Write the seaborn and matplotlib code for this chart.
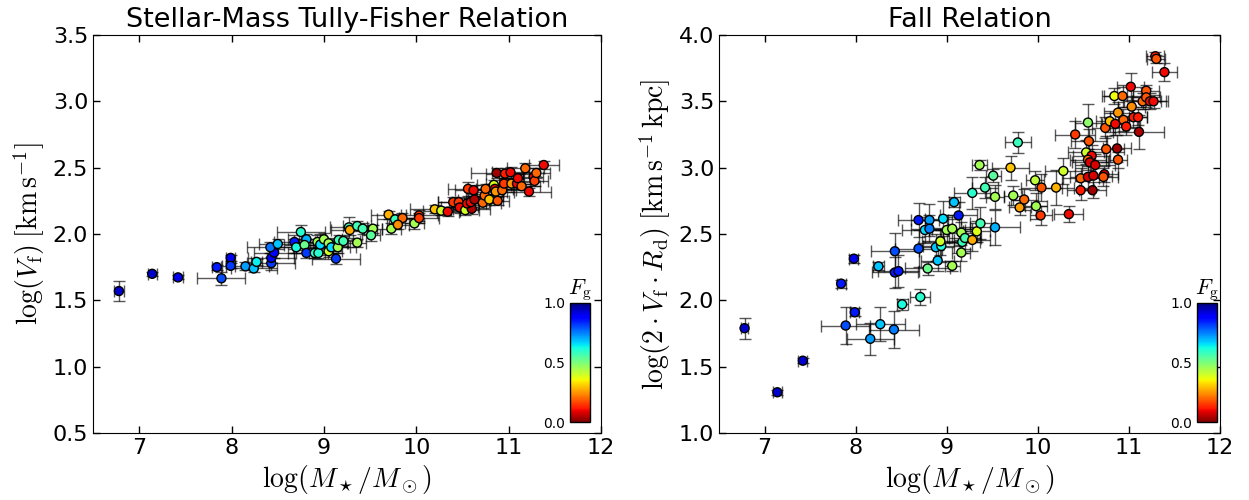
import numpy as np
import pandas as pd
import matplotlib
matplotlib.use('Agg')
import matplotlib.pyplot as plt
import seaborn as sns

# --- Stellar-mass Tully-Fisher panel ---
mstar_tf = [6.78, 7.14, 7.42, 7.84, 7.99, 7.99, 7.89, 8.15, 8.24, 8.27,
            8.43, 8.43, 8.46, 8.42, 8.50, 8.68, 8.70, 8.75, 8.81, 8.79,
            8.81, 8.90, 8.94, 8.93, 8.96, 9.00, 9.05, 9.05, 9.08, 9.13,
            9.15, 9.16, 9.21, 9.27, 9.28, 9.36, 9.36, 9.42, 9.53, 9.51,
            9.70, 9.77, 9.85, 9.73, 9.80, 9.98, 10.03, 10.03, 10.20, 10.27,
            10.34, 10.40, 10.46, 10.47, 10.53, 10.60, 10.56, 10.62, 10.55, 10.59,
            10.63, 10.72, 10.74, 10.79, 10.88, 10.75, 10.84, 10.85, 10.86, 10.93,
            10.95, 10.87, 10.96, 11.02, 11.03, 11.09, 11.10, 11.14, 11.18, 11.22,
            11.27, 11.28, 11.30, 11.38]
logv_tf = [1.57, 1.70, 1.673, 1.75, 1.82, 1.76, 1.666, 1.756, 1.74, 1.79,
           1.78, 1.82, 1.86, 1.90, 1.925, 1.94, 1.90, 2.015, 1.96, 1.917,
           1.857, 1.857, 1.857, 1.94, 1.92, 1.96, 1.93, 1.87, 1.90, 1.814,
           1.90, 1.955, 1.947, 2.05, 2.03, 2.06, 1.935, 2.04, 2.04, 1.99,
           2.146, 2.11, 2.12, 2.04, 2.07, 2.08, 2.14, 2.12, 2.186, 2.176,
           2.168, 2.24, 2.24, 2.20, 2.18, 2.19, 2.34, 2.33, 2.23, 2.24,
           2.26, 2.236, 2.29, 2.26, 2.25, 2.34, 2.37, 2.34, 2.32, 2.33,
           2.38, 2.46, 2.455, 2.465, 2.38, 2.38, 2.42, 2.36, 2.495, 2.32,
           2.43, 2.40, 2.46, 2.52]
fg_tf = [0.93, 0.93, 0.90, 0.85, 0.90, 0.82, 0.80, 0.72, 0.68, 0.64,
         0.82, 0.88, 0.88, 0.76, 0.68, 0.85, 0.62, 0.60, 0.70, 0.52,
         0.82, 0.60, 0.60, 0.45, 0.66, 0.45, 0.45, 0.40, 0.66, 0.82,
         0.45, 0.57, 0.57, 0.57, 0.27, 0.57, 0.45, 0.57, 0.45, 0.54,
         0.28, 0.58, 0.20, 0.45, 0.24, 0.45, 0.15, 0.15, 0.30, 0.40,
         0.10, 0.15, 0.15, 0.10, 0.40, 0.04, 0.15, 0.10, 0.10, 0.10,
         0.04, 0.20, 0.20, 0.30, 0.18, 0.20, 0.38, 0.10, 0.25, 0.20,
         0.15, 0.03, 0.12, 0.10, 0.25, 0.10, 0.10, 0.20, 0.20, 0.10,
         0.10, 0.16, 0.20, 0.10]
xerr_tf = [0.05, 0.05, 0.05, 0.05, 0.05, 0.05, 0.26, 0.25, 0.25, 0.06,
           0.26, 0.25, 0.22, 0.25, 0.20, 0.22, 0.20, 0.26, 0.20, 0.22,
           0.20, 0.20, 0.10, 0.20, 0.20, 0.20, 0.20, 0.15, 0.20, 0.26,
           0.20, 0.15, 0.18, 0.20, 0.20, 0.15, 0.10, 0.15, 0.10, 0.10,
           0.19, 0.20, 0.15, 0.10, 0.12, 0.10, 0.20, 0.22, 0.27, 0.20,
           0.12, 0.16, 0.22, 0.20, 0.15, 0.20, 0.22, 0.20, 0.20, 0.20,
           0.18, 0.20, 0.20, 0.15, 0.12, 0.20, 0.18, 0.20, 0.20, 0.15,
           0.20, 0.28, 0.20, 0.20, 0.20, 0.15, 0.20, 0.20, 0.20, 0.24,
           0.10, 0.15, 0.15, 0.16]
yerr_tf = [0.075, 0.015, 0.015, 0.02, 0.025, 0.02, 0.05, 0.03, 0.03, 0.02,
           0.05, 0.04, 0.04, 0.04, 0.04, 0.05, 0.04, 0.05, 0.04, 0.04,
           0.04, 0.04, 0.04, 0.05, 0.08, 0.05, 0.04, 0.04, 0.04, 0.04,
           0.04, 0.04, 0.04, 0.08, 0.04, 0.04, 0.03, 0.04, 0.03, 0.04,
           0.03, 0.04, 0.04, 0.04, 0.03, 0.04, 0.04, 0.04, 0.03, 0.03,
           0.03, 0.04, 0.04, 0.04, 0.04, 0.04, 0.05, 0.04, 0.04, 0.04,
           0.04, 0.04, 0.04, 0.04, 0.03, 0.04, 0.04, 0.04, 0.04, 0.04,
           0.04, 0.04, 0.04, 0.04, 0.04, 0.04, 0.04, 0.03, 0.04, 0.03,
           0.04, 0.04, 0.04, 0.03]

# --- Fall relation panel ---
mstar_fall = [6.78, 7.14, 7.42, 7.84, 7.98, 7.99, 7.89, 8.25, 8.27, 8.16,
              8.42, 8.51, 8.71, 8.43, 8.43, 8.47, 8.69, 8.69, 8.81, 8.76,
              8.81, 8.79, 8.90, 8.88, 8.94, 8.93, 8.96, 9.00, 9.06, 9.06,
              9.08, 9.13, 9.16, 9.17, 9.16, 9.20, 9.28, 9.33, 9.37, 9.28,
              9.42, 9.53, 9.53, 9.51, 9.36, 9.78, 9.70, 9.73, 9.80, 9.85,
              9.97, 9.98, 10.03, 10.04, 10.20, 10.28, 10.34, 10.41, 10.47, 10.47,
              10.55, 10.56, 10.53, 10.59, 10.55, 10.57, 10.63, 10.55, 10.61, 10.60,
              10.73, 10.72, 10.75, 10.87, 10.88, 10.74, 10.79, 10.85, 10.88, 10.94,
              10.97, 11.05, 11.10, 11.11, 11.03, 10.84, 10.93, 11.02, 11.15, 11.19,
              11.19, 11.23, 11.27, 11.29, 11.30, 11.39]
logj_fall = [1.79, 1.307, 1.545, 2.126, 2.314, 1.91, 1.81, 2.256, 1.82, 1.71,
             1.78, 1.97, 2.025, 2.37, 2.21, 2.22, 2.39, 2.605, 2.605, 2.53,
             2.54, 2.24, 2.30, 2.40, 2.41, 2.445, 2.615, 2.53, 2.54, 2.26,
             2.74, 2.64, 2.51, 2.44, 2.36, 2.47, 2.455, 2.52, 2.58, 2.81,
             2.85, 2.55, 2.78, 2.94, 3.02, 3.19, 3.00, 2.79, 2.70, 2.76,
             2.905, 2.71, 2.64, 2.85, 2.85, 2.975, 2.65, 3.25, 2.92, 2.83,
             3.34, 3.20, 3.115, 3.09, 3.06, 3.04, 3.02, 2.93, 2.94, 2.83,
             2.95, 2.93, 3.14, 3.145, 3.06, 3.30, 3.35, 3.33, 3.415, 3.36,
             3.31, 3.38, 3.38, 3.27, 3.46, 3.54, 3.54, 3.61, 3.50, 3.58,
             3.53, 3.50, 3.50, 3.84, 3.82, 3.72]
fg_fall = [0.93, 0.93, 0.93, 0.85, 0.90, 0.85, 0.80, 0.68, 0.68, 0.72,
           0.75, 0.62, 0.60, 0.80, 0.85, 0.85, 0.80, 0.85, 0.72, 0.66,
           0.75, 0.52, 0.68, 0.68, 0.62, 0.40, 0.66, 0.45, 0.45, 0.45,
           0.68, 0.85, 0.45, 0.58, 0.45, 0.56, 0.27, 0.38, 0.57, 0.60,
           0.57, 0.70, 0.45, 0.54, 0.45, 0.58, 0.30, 0.45, 0.26, 0.20,
           0.42, 0.45, 0.15, 0.18, 0.28, 0.40, 0.10, 0.15, 0.20, 0.12,
           0.48, 0.18, 0.40, 0.10, 0.20, 0.08, 0.08, 0.08, 0.08, 0.03,
           0.08, 0.18, 0.18, 0.03, 0.18, 0.18, 0.30, 0.10, 0.25, 0.20,
           0.12, 0.12, 0.12, 0.04, 0.24, 0.36, 0.20, 0.10, 0.20, 0.18,
           0.18, 0.10, 0.10, 0.12, 0.18, 0.10]
xerr_fall = [0.04, 0.05, 0.05, 0.05, 0.05, 0.05, 0.27, 0.06, 0.27, 0.26,
             0.27, 0.06, 0.11, 0.26, 0.25, 0.23, 0.26, 0.22, 0.20, 0.25,
             0.20, 0.25, 0.18, 0.20, 0.20, 0.20, 0.20, 0.20, 0.22, 0.08,
             0.06, 0.20, 0.20, 0.20, 0.10, 0.18, 0.20, 0.15, 0.12, 0.20,
             0.14, 0.27, 0.10, 0.08, 0.08, 0.14, 0.20, 0.10, 0.12, 0.15,
             0.10, 0.12, 0.12, 0.22, 0.20, 0.20, 0.16, 0.22, 0.20, 0.15,
             0.14, 0.20, 0.20, 0.20, 0.20, 0.20, 0.22, 0.20, 0.20, 0.15,
             0.15, 0.16, 0.20, 0.15, 0.10, 0.15, 0.15, 0.15, 0.15, 0.15,
             0.15, 0.15, 0.10, 0.28, 0.15, 0.14, 0.20, 0.15, 0.20, 0.14,
             0.15, 0.20, 0.14, 0.10, 0.10, 0.14]
yerr_fall = [0.08, 0.02, 0.02, 0.03, 0.03, 0.03, 0.14, 0.03, 0.13, 0.12,
             0.14, 0.04, 0.06, 0.14, 0.12, 0.12, 0.14, 0.13, 0.12, 0.10,
             0.10, 0.05, 0.08, 0.10, 0.12, 0.10, 0.13, 0.10, 0.10, 0.04,
             0.04, 0.10, 0.08, 0.08, 0.06, 0.08, 0.08, 0.08, 0.12, 0.12,
             0.08, 0.13, 0.09, 0.05, 0.04, 0.08, 0.09, 0.07, 0.06, 0.08,
             0.07, 0.10, 0.07, 0.10, 0.13, 0.10, 0.06, 0.10, 0.08, 0.07,
             0.14, 0.09, 0.09, 0.08, 0.08, 0.08, 0.08, 0.08, 0.10, 0.06,
             0.06, 0.07, 0.10, 0.10, 0.06, 0.08, 0.08, 0.08, 0.08, 0.08,
             0.06, 0.08, 0.06, 0.13, 0.07, 0.06, 0.08, 0.10, 0.06, 0.04,
             0.07, 0.06, 0.05, 0.03, 0.03, 0.07]

sns.set_style('white', rc={'xtick.direction': 'in', 'ytick.direction': 'in',
                           'xtick.top': True, 'ytick.right': True,
                           'xtick.bottom': True, 'ytick.left': True,
                           'axes.edgecolor': 'black', 'axes.linewidth': 1.0,
                           'text.color': 'black', 'axes.labelcolor': 'black',
                           'xtick.color': 'black', 'ytick.color': 'black'})
plt.rcParams['font.family'] = ['DejaVu Sans']
plt.rcParams['mathtext.fontset'] = 'cm'

tf_df = pd.DataFrame({'mstar': mstar_tf, 'y': logv_tf, 'fg': fg_tf})
fall_df = pd.DataFrame({'mstar': mstar_fall, 'y': logj_fall, 'fg': fg_fall})

fig = plt.figure(figsize=(12.49, 5), dpi=100)
ax1 = fig.add_axes([0.0745, 0.134, 0.4067, 0.796])
ax2 = fig.add_axes([0.5757, 0.134, 0.4011, 0.796])

panels = [
    (ax1, tf_df, xerr_tf, yerr_tf, 'Stellar-Mass Tully-Fisher Relation',
     r'$\log(V_{\rm f})\;[{\rm km\,s^{-1}}]$', (0.5, 3.5)),
    (ax2, fall_df, xerr_fall, yerr_fall, 'Fall Relation',
     r'$\log(2\cdot V_{\rm f}\cdot R_{\rm d})\;[{\rm km\,s^{-1}\,kpc}]$', (1.0, 4.0)),
]
cax_pos = [[0.4564, 0.156, 0.016, 0.238], [0.9584, 0.156, 0.016, 0.238]]

for (ax, df, xe, ye, title, ylab, ylim), cpos in zip(panels, cax_pos):
    ax.errorbar(df['mstar'], df['y'], xerr=xe, yerr=ye, fmt='none',
                ecolor='black', alpha=0.65, elinewidth=1, capsize=4, capthick=1, zorder=1)
    sns.scatterplot(data=df, x='mstar', y='y', hue='fg', palette='jet_r',
                    hue_norm=(0, 1), s=42, edgecolor='black', linewidth=1,
                    legend=False, ax=ax, zorder=3)
    ax.set_xlim(6.5, 12)
    ax.set_ylim(*ylim)
    ax.set_xticks([7, 8, 9, 10, 11, 12])
    ax.set_yticks(np.arange(ylim[0], ylim[1] + 0.01, 0.5))
    ax.yaxis.set_major_formatter(matplotlib.ticker.FormatStrFormatter('%.1f'))
    ax.tick_params(labelsize=16, length=5, width=1)
    ax.set_title(title, fontsize=19.5)
    ax.set_xlabel(r'$\log(M_\star/M_\odot)$', fontsize=20)
    ax.set_ylabel(ylab, fontsize=20)

    cax = fig.add_axes(cpos)
    sm = plt.cm.ScalarMappable(cmap='jet_r', norm=plt.Normalize(0, 1))
    cb = fig.colorbar(sm, cax=cax, ticks=[0.0, 0.5, 1.0])
    cax.yaxis.set_ticks_position('left')
    cax.yaxis.set_major_formatter(matplotlib.ticker.FormatStrFormatter('%.1f'))
    cax.tick_params(labelsize=10, length=0)
    cb.outline.set_linewidth(1)
    cax.set_title(r'$F_{\rm g}$', fontsize=16, pad=1)

fig.savefig('out.png', dpi=100)
